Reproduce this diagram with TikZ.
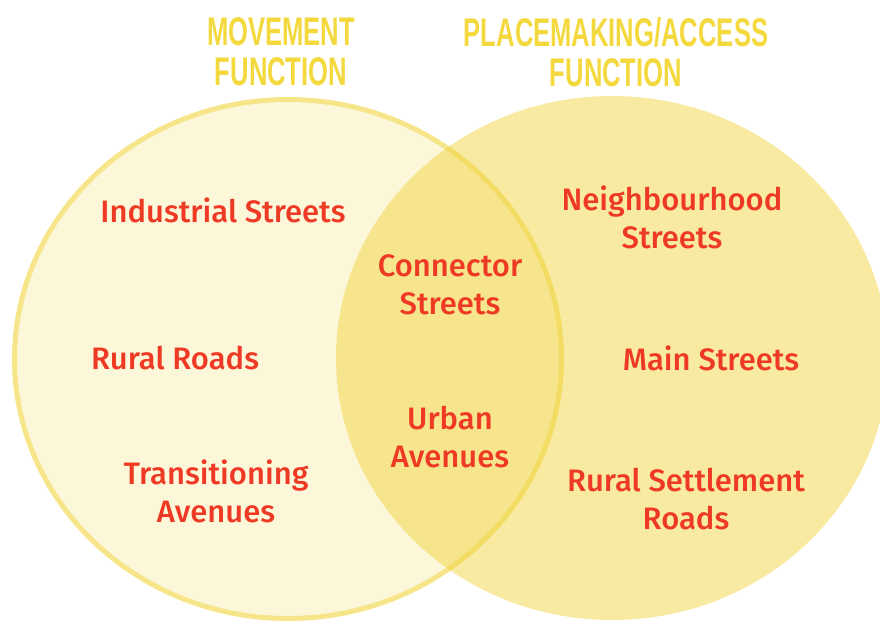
\documentclass[tikz,border=0pt]{standalone}
\usepackage{fontspec}
\usepackage{xcolor}
\usetikzlibrary{positioning}
\newfontfamily\streetfont{Fira Sans Medium}
\newfontfamily\titlefont{Liberation Sans}[FakeStretch=0.64]
\definecolor{vennyellow}{HTML}{F1D541}
\definecolor{streetred}{HTML}{EE3A24}
\definecolor{titleyellow}{HTML}{F4D93E}

\begin{document}
\begin{tikzpicture}[x=1pt, y=-1pt,
    street/.style={text=streetred, align=center, inner sep=0pt, font=\streetfont\fontsize{31}{38}\selectfont},
    heading/.style={text=titleyellow, align=center, inner sep=0pt, font=\titlefont\bfseries\fontsize{40}{40}\selectfont}]
                        \useasboundingbox (0,0) rectangle (880,621);
                        \draw[fill=vennyellow!20, draw=vennyellow!62, line width=5pt]
                        (288,359) ellipse (273.5 and 259.5);
                        \fill[vennyellow, fill opacity=0.5]
                        (612,358) ellipse (276 and 262);
                        \node[heading] (move) at (281, 52) {MOVEMENT\\FUNCTION};
                        \node[heading] (place) at (616, 52) {PLACEMAKING/ACCESS\\FUNCTION};
                        \node[street] (ind) at (223, 210) {Industrial Streets};
                        \node[street] (rural) at (175, 358) {Rural Roads};
                        \node[street] (trans) at (216, 491) {Transitioning\\Avenues};
                        \node[street] (conn) at (450, 285) {Connector\\Streets};
                        \node[street] (urban) at (450, 437) {Urban\\Avenues};
                        \node[street] (neigh) at (672, 217) {Neighbourhood\\Streets};
                        \node[street] (main) at (711, 358) {Main Streets};
                        \node[street] (settle) at (686, 499) {Rural Settlement\\Roads};
                    \end{tikzpicture}
\end{document}
